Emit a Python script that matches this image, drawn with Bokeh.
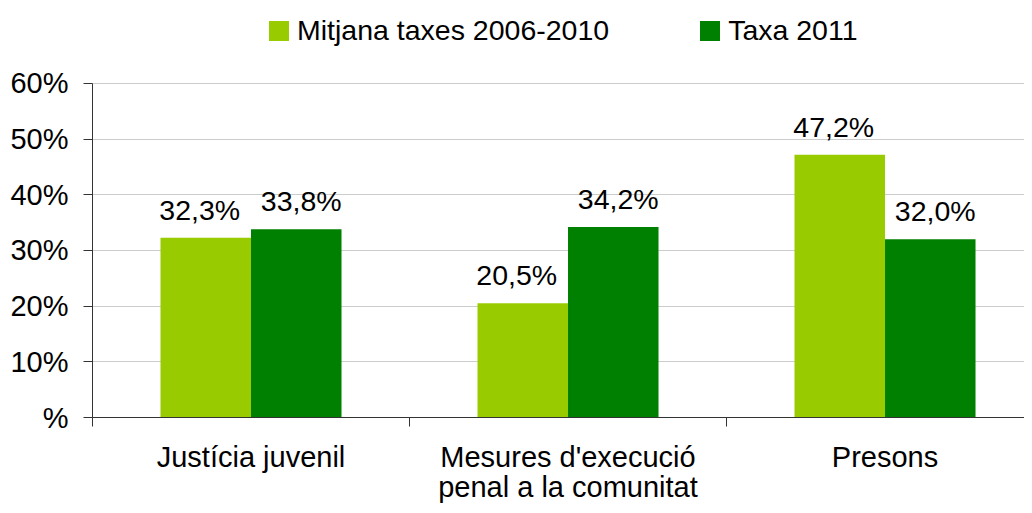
from bokeh.plotting import figure
from bokeh.models import ColumnDataSource, Range1d, FixedTicker, Legend, LegendItem
from bokeh.transform import dodge
from bokeh.core.properties import value
from bokeh.embed import file_html
from bokeh.resources import INLINE

categories = ["Justícia juvenil", "Mesures d'execució\npenal a la comunitat", "Presons"]
series_names = ["Mitjana taxes 2006-2010", "Taxa 2011"]
mitjana = [32.3, 20.5, 47.2]
taxa2011 = [33.8, 34.2, 32.0]
y_ticks = [0, 10, 20, 30, 40, 50, 60]
y_tick_labels = ["%", "10%", "20%", "30%", "40%", "50%", "60%"]

FONT = "Liberation Sans"
LIGHT = "#99CC00"
DARK = "#008000"

def fmt(v):
    return f"{v:.1f}".replace(".", ",") + "%"

centers = [i + 0.5 for i in range(len(categories))]
src = ColumnDataSource(dict(
    x=centers,
    a=mitjana,
    b=taxa2011,
    la=[fmt(v) for v in mitjana],
    lb=[fmt(v) for v in taxa2011],
))

p = figure(width=1024, height=505, output_backend="svg", toolbar_location=None,
           x_range=Range1d(0, 2.940), y_range=Range1d(0, 74.9),
           min_border_left=92, min_border_right=0, min_border_top=0, min_border_bottom=85)
p.outline_line_color = None
p.background_fill_color = "white"
p.border_fill_color = "white"

bw = 0.2855
ra = p.vbar(x=dodge("x", -bw / 2, range=p.x_range), top="a", width=bw, source=src,
            fill_color=LIGHT, line_color=None)
rb = p.vbar(x=dodge("x", bw / 2, range=p.x_range), top="b", width=bw, source=src,
            fill_color=DARK, line_color=None)

p.text(x=dodge("x", -bw / 2, range=p.x_range), y="a", text="la", source=src,
       text_font=value(FONT), text_font_size="28.5px", text_color="black",
       text_align="center", text_baseline="alphabetic", y_offset=-28, x_offset=-6)
p.text(x=dodge("x", bw / 2, range=p.x_range), y="b", text="lb", source=src,
       text_font=value(FONT), text_font_size="28.5px", text_color="black",
       text_align="center", text_baseline="alphabetic", y_offset=-28, x_offset=5)

# y axis
p.yaxis.ticker = FixedTicker(ticks=y_ticks)
p.yaxis.bounds = (0, 60)
p.yaxis.major_label_overrides = {t: l for t, l in zip(y_ticks, y_tick_labels)}
p.yaxis.major_label_text_font = FONT
p.yaxis.major_label_text_font_size = "29px"
p.yaxis.major_label_text_color = "black"
p.yaxis.major_tick_in = 0
p.yaxis.major_tick_out = 9
p.yaxis.minor_tick_line_color = None
p.yaxis.axis_line_color = "#333333"
p.yaxis.major_tick_line_color = "#333333"
p.yaxis.major_label_standoff = 15

# x axis
p.xaxis.ticker = FixedTicker(ticks=centers, minor_ticks=[0, 1, 2, 3])
p.xaxis.major_label_overrides = {c: cat for c, cat in zip(centers, categories)}
p.xaxis.major_label_text_font = FONT
p.xaxis.major_label_text_font_size = "29px"
p.xaxis.major_label_text_line_height = 0.95
p.xaxis.major_label_text_color = "black"
p.xaxis.major_tick_in = 0
p.xaxis.major_tick_out = 0
p.xaxis.minor_tick_in = 0
p.xaxis.minor_tick_out = 9
p.xaxis.minor_tick_line_color = "#333333"
p.xaxis.axis_line_color = "#333333"
p.xaxis.major_label_standoff = 14

p.xgrid.grid_line_color = None
p.ygrid.ticker = FixedTicker(ticks=y_ticks)
p.ygrid.grid_line_color = "#CCCCCC"
p.ygrid.grid_line_width = 1

legend = Legend(items=[LegendItem(label=series_names[0], renderers=[ra]),
                       LegendItem(label=series_names[1], renderers=[rb])],
                orientation="horizontal", location=(174, 370),
                glyph_width=25, glyph_height=25, label_standoff=6, spacing=88,
                label_text_font=FONT, label_text_font_size="28.5px",
                label_text_color="black", border_line_color=None,
                background_fill_alpha=0, padding=6, margin=0)
p.add_layout(legend, "center")

open("out.html", "w").write(file_html(p, INLINE))
